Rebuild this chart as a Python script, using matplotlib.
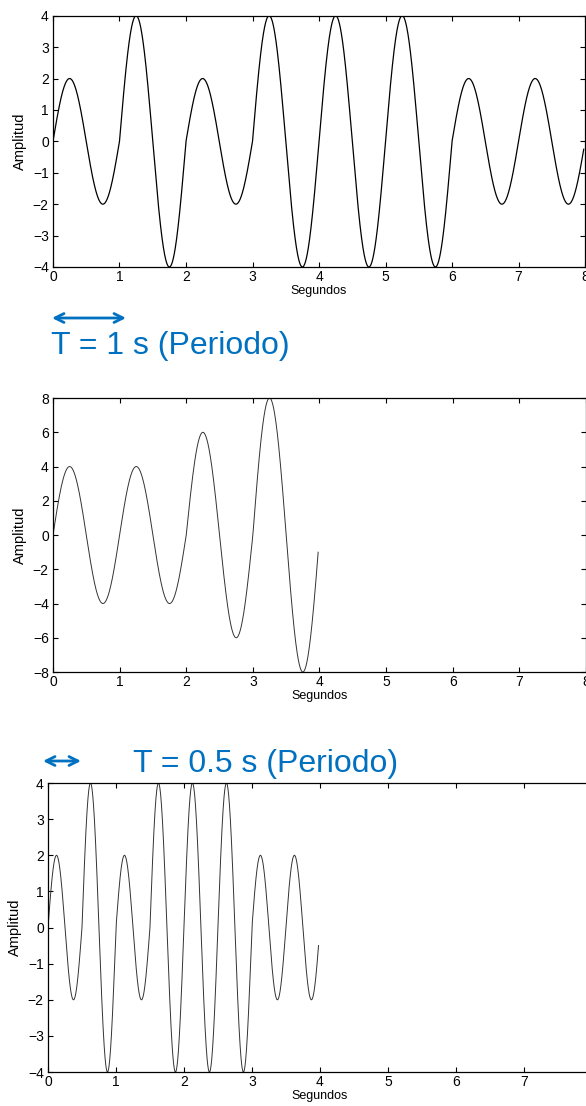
import numpy as np
import matplotlib.pyplot as plt

plt.rcParams['font.family'] = ['Liberation Sans', 'DejaVu Sans']

# peak amplitude of each cycle
amp_top = [2, 4, 2, 4, 4, 4, 2, 2]
amp_mid = [4, 4, 6, 8]
amp_bot = [2, 4, 2, 4, 4, 4, 2, 2]

period_top = 1.0
period_mid = 1.0
period_bot = 0.5

dt = 0.02
x_ticks = [0, 1, 2, 3, 4, 5, 6, 7, 8]
blue = '#0070C0'


def senal(amps, T):
    t = np.arange(0, len(amps) * T, dt / 10)
    t = t[t <= len(amps) * T - dt + 1e-9]
    ciclo = np.minimum((t / T).astype(int), len(amps) - 1)
    y = np.array(amps)[ciclo] * np.sin(2 * np.pi * t / T)
    return t, y


def ejes(ax, ylim, ystep):
    ax.set_xlim(0, 8)
    ax.set_ylim(-ylim, ylim)
    ax.set_xticks(x_ticks)
    ax.set_yticks(np.arange(-ylim, ylim + ystep, ystep))
    ax.tick_params(direction='in', top=True, right=True, length=3.5,
                   width=0.8, labelsize=10, pad=2)
    ax.tick_params(axis='y', pad=3)
    for s in ax.spines.values():
        s.set_linewidth(0.9)
    ax.set_xlabel('Segundos', fontsize=9, labelpad=1)
    ax.set_ylabel('Amplitud', fontsize=10.5, labelpad=4)


fig = plt.figure(figsize=(5.86, 11.06), dpi=100)

ax1 = fig.add_axes([0.0904, 0.7586, 0.908, 0.2272])
t, y = senal(amp_top, period_top)
ax1.plot(t, y, color='black', lw=0.9)
ejes(ax1, 4, 1)

ax2 = fig.add_axes([0.0904, 0.3924, 0.9096, 0.2477])
t, y = senal(amp_mid, period_mid)
ax2.plot(t, y, color='#333333', lw=0.7)
ejes(ax2, 8, 2)

ax3 = fig.add_axes([0.0819, 0.0307, 0.928, 0.2613])
t, y = senal(amp_bot, period_bot)
ax3.plot(t, y, color='#333333', lw=0.7)
ejes(ax3, 4, 1)

# period markers
fig.text(0.087, 1 - 354 / 1106, 'T = 1 s (Periodo)', color=blue,
         fontsize=23, va='baseline', ha='left')
fig.text(0.227, 1 - 772 / 1106, 'T = 0.5 s (Periodo)', color=blue,
         fontsize=23, va='baseline', ha='left')
flecha = dict(arrowstyle='<->', color=blue, lw=2, mutation_scale=16,
              shrinkA=0, shrinkB=0)
ax1.annotate('', xy=(126 / 586, 1 - 318 / 1106), xytext=(52 / 586, 1 - 318 / 1106),
             xycoords='figure fraction', textcoords='figure fraction',
             arrowprops=flecha)
ax1.annotate('', xy=(81 / 586, 1 - 761 / 1106), xytext=(43 / 586, 1 - 761 / 1106),
             xycoords='figure fraction', textcoords='figure fraction',
             arrowprops=flecha)

fig.savefig('out.png', dpi=100)
